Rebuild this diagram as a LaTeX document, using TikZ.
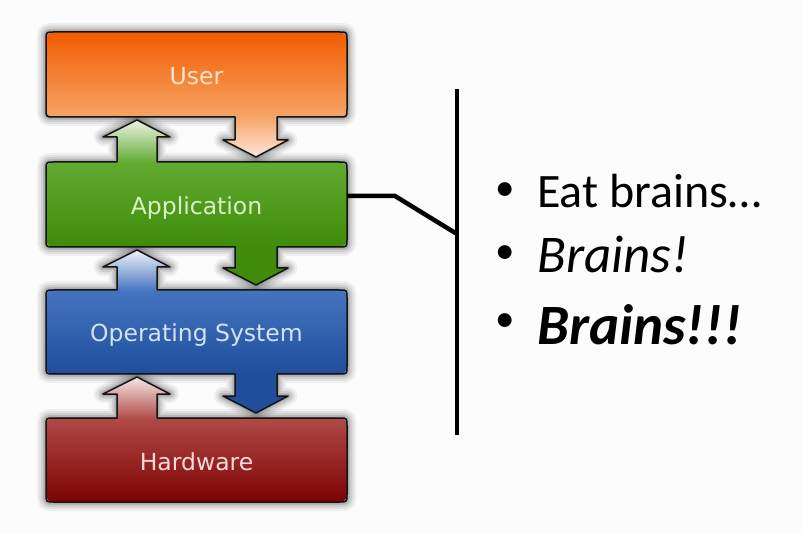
\documentclass[tikz,border=0pt]{standalone}
\usepackage{fontspec}
\setmainfont{Carlito}
\newfontfamily\boxfont{DejaVu Sans}

% outline pieces of the stacked layers: arrow going up into a box, arrow going down out of a box
\newcommand\upseg[2]{-- (117,#1) -- (117,#2+17) -- (103,#2+17) -- (137,#2) -- (170,#2+17) -- (157,#2+17) -- (157,#1)}
\newcommand\downseg[2]{-- (277,#1) -- (277,#2-17) -- (288,#2-17) -- (256,#2) -- (223,#2-17) -- (235,#2-17) -- (235,#1)}
% one layer: rounded box from #1 to #2 with optional arrow pieces #3 (top) and #4 (bottom)
\newcommand\layeroutline[4]{(54,#1) #3 -- (339,#1) .. controls (347,#1) .. (347,#1+8) -- (347,#2-8) .. controls (347,#2) .. (339,#2) #4 -- (54,#2) .. controls (46,#2) .. (46,#2-8) -- (46,#1+8) .. controls (46,#1) .. (54,#1) -- cycle}
% arrow bodies for the colour fills
\newcommand\uppoly[2]{(117,#1+1) -- (117,#2+17) -- (103,#2+17) -- (137,#2) -- (170,#2+17) -- (157,#2+17) -- (157,#1+1) -- cycle}
\newcommand\downpoly[2]{(235,#1-1) -- (235,#2-17) -- (223,#2-17) -- (256,#2) -- (288,#2-17) -- (277,#2-17) -- (277,#1-1) -- cycle}
% soft glow: stacked translucent strokes along an outline
\newcommand\glow[4]{%
  \foreach \w/\o in {18/0.05,14/0.06,10/0.08,6/0.1,3/0.12}{%
    \draw[draw=black,opacity=\o,line width=\w pt,line join=round] \layeroutline{#1}{#2}{#3}{#4};}}

\definecolor{ink}{HTML}{141414}
\definecolor{paper}{HTML}{FCFCFC}
% user layer
\definecolor{usrA}{HTML}{F25C00}
\definecolor{usrB}{HTML}{F26A12}
\definecolor{usrC}{HTML}{F6A466}
\definecolor{usrT}{HTML}{FDE3C8}
\definecolor{usrP}{HTML}{FBE6DA}
% application layer
\definecolor{appA}{HTML}{62AA30}
\definecolor{appB}{HTML}{4A9914}
\definecolor{appC}{HTML}{3E8C0A}
\definecolor{appT}{HTML}{D6F2C6}
\definecolor{appP}{HTML}{EAF4E2}
% operating system layer
\definecolor{osA}{HTML}{4674C0}
\definecolor{osB}{HTML}{2858A6}
\definecolor{osC}{HTML}{1E4E9C}
\definecolor{osT}{HTML}{D4E2F6}
\definecolor{osP}{HTML}{EEF2F8}
% hardware layer
\definecolor{hwA}{HTML}{B04A46}
\definecolor{hwB}{HTML}{8E1010}
\definecolor{hwC}{HTML}{7C0202}
\definecolor{hwT}{HTML}{F8DADA}
\definecolor{hwP}{HTML}{F4E6E4}

\begin{document}
\begin{tikzpicture}[x=1pt,y=-1pt,
  layer/.style={minimum width=301pt,minimum height=85pt,inner sep=0pt,
    rounded corners=8pt,text height=20pt,text depth=0pt,
    font=\boxfont\fontsize{23.5}{28}\selectfont},
  rim/.style={draw=ink,line width=1.5pt,line join=round},
  bar/.style={line width=4.5pt,draw=black},
  item/.style={anchor=base west,inner sep=0pt,text=black},
  dot/.style={anchor=center,inner sep=0pt,text=black,font=\fontsize{39}{44}\selectfont}
]
\useasboundingbox[fill=paper] (0,0) rectangle (803,534);

% soft shadows under every layer
\glow{32}{117}{}{\downseg{117}{157}}
\glow{162}{247}{\upseg{162}{120}}{\downseg{247}{285}}
\glow{290}{374}{\upseg{290}{250}}{\downseg{374}{413}}
\glow{418}{502}{\upseg{418}{377}}{}

% the four boxes
\node[layer,top color=usrA,middle color=usrB,bottom color=usrC,text=usrT]
  (user) at (196.5,74.5) {User};
\node[layer,top color=appA,middle color=appB,bottom color=appC,text=appT]
  (app) at (196.5,204.5) {Application};
\node[layer,top color=osA,middle color=osB,bottom color=osC,text=osT]
  (os) at (196.5,332) {Operating System};
\node[layer,top color=hwA,middle color=hwB,bottom color=hwC,text=hwT]
  (hw) at (196.5,460) {Hardware};

% arrow bodies
\path[top color=usrC,bottom color=usrP] \downpoly{117}{157};
\path[top color=appP,bottom color=appA] \uppoly{162}{120};
\path[fill=appC] \downpoly{247}{285};
\path[top color=osP,bottom color=osA] \uppoly{290}{250};
\path[fill=osC] \downpoly{374}{413};
\path[top color=hwP,bottom color=hwA] \uppoly{418}{377};

% outlines
\draw[rim] \layeroutline{32}{117}{}{\downseg{117}{157}};
\draw[rim] \layeroutline{162}{247}{\upseg{162}{120}}{\downseg{247}{285}};
\draw[rim] \layeroutline{290}{374}{\upseg{290}{250}}{\downseg{374}{413}};
\draw[rim] \layeroutline{418}{502}{\upseg{418}{377}}{};

% bracket joining the application layer to the list
\coordinate (bartop) at (457,89);
\coordinate (barbot) at (457,435);
\coordinate (joint) at (457,234);
\coordinate (bend) at (395,196);
\draw[bar] (bartop) -- (barbot);
\draw[bar,line join=miter] ([yshift=8.5pt]app.east) -- (bend) -- (joint);

% list
\node[dot] (dot1) at (505,192) {•};
\node[item,font=\fontsize{48}{56}\selectfont] (txt1) at (537,208) {Eat brains…};
\node[dot] (dot2) at (505,255) {•};
\node[item,font=\itshape\fontsize{53}{60}\selectfont] (txt2) at (537,273) {Brains!};
\node[dot] (dot3) at (505,323) {•};
\node[item,font=\bfseries\itshape\fontsize{57}{64}\selectfont] (txt3) at (537,345) {Brains!!!};
\end{tikzpicture}
\end{document}
